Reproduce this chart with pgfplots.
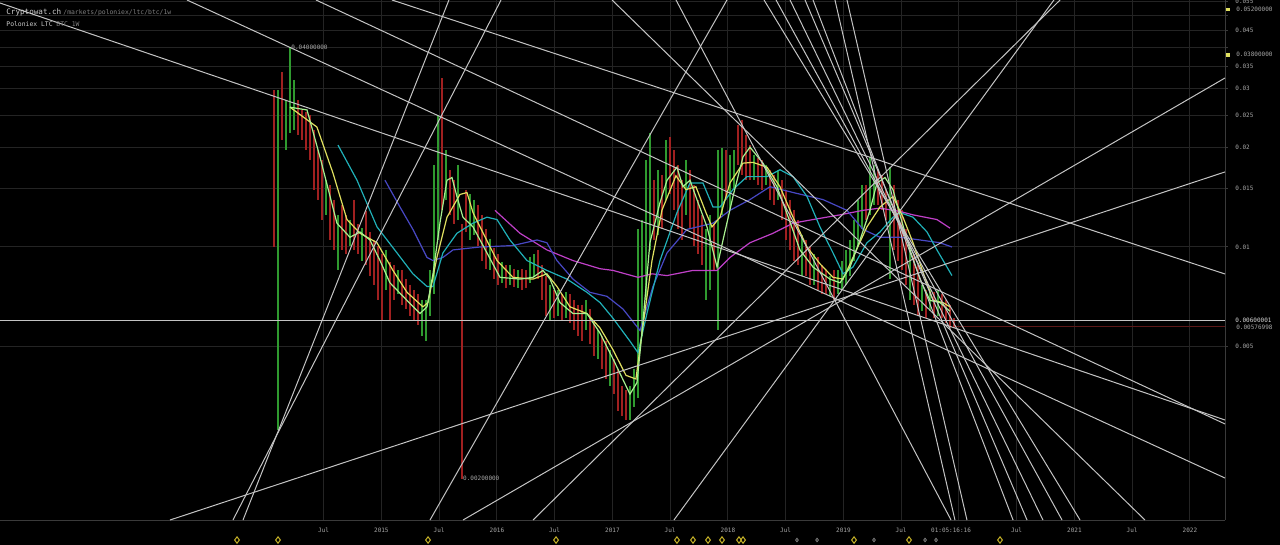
\documentclass[border=0pt]{standalone}
\usepackage{fontspec}
\setmonofont{DejaVu Sans Mono}
\usepackage{pgfplots}
\usepackage{pgfplotstable}
\pgfplotsset{compat=1.18}

\definecolor{cgrid}{HTML}{242424}
\definecolor{caxis}{HTML}{3a3a3a}
\definecolor{clabel}{HTML}{a8a8a8}
\definecolor{ctrend}{HTML}{c4c4c4}
\definecolor{cgreen}{HTML}{2f9a2f}
\definecolor{cred}{HTML}{a02020}
\definecolor{cyel}{HTML}{e0e060}
\definecolor{clime}{HTML}{a8f090}
\definecolor{ccyan}{HTML}{20b0b8}
\definecolor{cblue}{HTML}{4848c4}
\definecolor{cmag}{HTML}{c040c8}
\definecolor{cdiam}{HTML}{c8b428}
\definecolor{cnow}{HTML}{5c1818}

% weekly candles sampled about every two weeks: high/low pairs, nan separates candles
\pgfplotstableread{
x y
2014.105 0.0297
2014.105 0.0028
nan nan
2014.174 0.0278
2014.174 0.0196
nan nan
2014.209 0.0401
2014.209 0.0221
nan nan
2014.243 0.0319
2014.243 0.0225
nan nan
2014.520 0.0159
2014.520 0.0125
nan nan
2014.624 0.0125
2014.624 0.0085
nan nan
2014.728 0.0121
2014.728 0.0101
nan nan
2014.832 0.0114
2014.832 0.0091
nan nan
2015.040 0.0098
2015.040 0.0074
nan nan
2015.144 0.0085
2015.144 0.0072
nan nan
2015.351 0.0069
2015.351 0.0054
nan nan
2015.386 0.0069
2015.386 0.0052
nan nan
2015.421 0.0085
2015.421 0.0062
nan nan
2015.455 0.0177
2015.455 0.0072
nan nan
2015.490 0.0250
2015.490 0.0105
nan nan
2015.559 0.0196
2015.559 0.0139
nan nan
2015.663 0.0177
2015.663 0.0121
nan nan
2015.767 0.0144
2015.767 0.0105
nan nan
2015.801 0.0139
2015.801 0.0109
nan nan
2015.940 0.0106
2015.940 0.0085
nan nan
2016.044 0.0090
2016.044 0.0078
nan nan
2016.113 0.0088
2016.113 0.0077
nan nan
2016.183 0.0085
2016.183 0.0075
nan nan
2016.287 0.0093
2016.287 0.0078
nan nan
2016.321 0.0095
2016.321 0.0081
nan nan
2016.460 0.0077
2016.460 0.0060
nan nan
2016.529 0.0074
2016.529 0.0062
nan nan
2016.598 0.0073
2016.598 0.0061
nan nan
2016.771 0.0069
2016.771 0.0056
nan nan
2016.875 0.0056
2016.875 0.0046
nan nan
2016.979 0.0049
2016.979 0.0038
nan nan
2017.152 0.0038
2017.152 0.0030
nan nan
2017.187 0.0043
2017.187 0.0033
nan nan
2017.222 0.0113
2017.222 0.0035
nan nan
2017.256 0.0121
2017.256 0.0054
nan nan
2017.291 0.0183
2017.291 0.0069
nan nan
2017.325 0.0221
2017.325 0.0098
nan nan
2017.395 0.0171
2017.395 0.0109
nan nan
2017.464 0.0210
2017.464 0.0139
nan nan
2017.637 0.0183
2017.637 0.0125
nan nan
2017.810 0.0113
2017.810 0.0069
nan nan
2017.845 0.0125
2017.845 0.0074
nan nan
2017.914 0.0196
2017.914 0.0056
nan nan
2017.949 0.0199
2017.949 0.0125
nan nan
2018.018 0.0190
2018.018 0.0129
nan nan
2018.053 0.0196
2018.053 0.0149
nan nan
2018.226 0.0190
2018.226 0.0159
nan nan
2018.330 0.0177
2018.330 0.0154
nan nan
2018.434 0.0171
2018.434 0.0139
nan nan
2018.642 0.0109
2018.642 0.0082
nan nan
2018.745 0.0095
2018.745 0.0077
nan nan
2018.884 0.0082
2018.884 0.0071
nan nan
2018.953 0.0085
2018.953 0.0072
nan nan
2018.988 0.0091
2018.988 0.0074
nan nan
2019.022 0.0098
2019.022 0.0077
nan nan
2019.057 0.0105
2019.057 0.0082
nan nan
2019.092 0.0121
2019.092 0.0091
nan nan
2019.126 0.0139
2019.126 0.0101
nan nan
2019.161 0.0154
2019.161 0.0113
nan nan
2019.230 0.0187
2019.230 0.0125
nan nan
2019.265 0.0177
2019.265 0.0134
nan nan
2019.403 0.0174
2019.403 0.0080
nan nan
2019.577 0.0101
2019.577 0.0069
nan nan
2019.681 0.0077
2019.681 0.0064
nan nan
2019.750 0.0075
2019.750 0.0064
nan nan
2019.819 0.0074
2019.819 0.0062
}\greenc

\pgfplotstableread{
x y
2014.070 0.0297
2014.070 0.0100
nan nan
2014.139 0.0337
2014.139 0.0210
nan nan
2014.278 0.0278
2014.278 0.0218
nan nan
2014.312 0.0259
2014.312 0.0210
nan nan
2014.347 0.0255
2014.347 0.0196
nan nan
2014.382 0.0250
2014.382 0.0183
nan nan
2014.416 0.0225
2014.416 0.0149
nan nan
2014.451 0.0196
2014.451 0.0139
nan nan
2014.486 0.0183
2014.486 0.0121
nan nan
2014.555 0.0154
2014.555 0.0105
nan nan
2014.589 0.0139
2014.589 0.0098
nan nan
2014.659 0.0134
2014.659 0.0098
nan nan
2014.693 0.0125
2014.693 0.0095
nan nan
2014.763 0.0139
2014.763 0.0098
nan nan
2014.797 0.0117
2014.797 0.0095
nan nan
2014.867 0.0128
2014.867 0.0088
nan nan
2014.901 0.0111
2014.901 0.0082
nan nan
2014.936 0.0105
2014.936 0.0077
nan nan
2014.971 0.0101
2014.971 0.0069
nan nan
2015.005 0.0095
2015.005 0.0060
nan nan
2015.074 0.0090
2015.074 0.0060
nan nan
2015.109 0.0088
2015.109 0.0069
nan nan
2015.178 0.0085
2015.178 0.0067
nan nan
2015.213 0.0080
2015.213 0.0065
nan nan
2015.248 0.0077
2015.248 0.0062
nan nan
2015.282 0.0074
2015.282 0.0060
nan nan
2015.317 0.0072
2015.317 0.0058
nan nan
2015.524 0.0323
2015.524 0.0129
nan nan
2015.594 0.0171
2015.594 0.0125
nan nan
2015.628 0.0159
2015.628 0.0117
nan nan
2015.698 0.0117
2015.698 0.0020
nan nan
2015.732 0.0149
2015.732 0.0111
nan nan
2015.836 0.0134
2015.836 0.0101
nan nan
2015.871 0.0125
2015.871 0.0091
nan nan
2015.905 0.0113
2015.905 0.0086
nan nan
2015.975 0.0099
2015.975 0.0080
nan nan
2016.009 0.0095
2016.009 0.0077
nan nan
2016.079 0.0088
2016.079 0.0075
nan nan
2016.148 0.0086
2016.148 0.0076
nan nan
2016.217 0.0086
2016.217 0.0074
nan nan
2016.252 0.0085
2016.252 0.0075
nan nan
2016.356 0.0098
2016.356 0.0080
nan nan
2016.390 0.0088
2016.390 0.0069
nan nan
2016.425 0.0082
2016.425 0.0062
nan nan
2016.494 0.0074
2016.494 0.0061
nan nan
2016.564 0.0072
2016.564 0.0060
nan nan
2016.633 0.0072
2016.633 0.0059
nan nan
2016.667 0.0069
2016.667 0.0056
nan nan
2016.702 0.0067
2016.702 0.0054
nan nan
2016.737 0.0067
2016.737 0.0052
nan nan
2016.806 0.0065
2016.806 0.0051
nan nan
2016.841 0.0060
2016.841 0.0047
nan nan
2016.910 0.0054
2016.910 0.0043
nan nan
2016.944 0.0052
2016.944 0.0040
nan nan
2017.014 0.0046
2017.014 0.0036
nan nan
2017.048 0.0043
2017.048 0.0032
nan nan
2017.083 0.0038
2017.083 0.0031
nan nan
2017.118 0.0037
2017.118 0.0030
nan nan
2017.360 0.0159
2017.360 0.0105
nan nan
2017.429 0.0165
2017.429 0.0113
nan nan
2017.499 0.0215
2017.499 0.0144
nan nan
2017.533 0.0196
2017.533 0.0129
nan nan
2017.568 0.0177
2017.568 0.0113
nan nan
2017.602 0.0159
2017.602 0.0105
nan nan
2017.672 0.0171
2017.672 0.0113
nan nan
2017.706 0.0154
2017.706 0.0101
nan nan
2017.741 0.0139
2017.741 0.0095
nan nan
2017.776 0.0125
2017.776 0.0088
nan nan
2017.880 0.0117
2017.880 0.0085
nan nan
2017.983 0.0196
2017.983 0.0139
nan nan
2018.087 0.0233
2018.087 0.0177
nan nan
2018.122 0.0242
2018.122 0.0165
nan nan
2018.157 0.0218
2018.157 0.0159
nan nan
2018.191 0.0203
2018.191 0.0159
nan nan
2018.261 0.0186
2018.261 0.0154
nan nan
2018.295 0.0183
2018.295 0.0149
nan nan
2018.365 0.0171
2018.365 0.0139
nan nan
2018.399 0.0165
2018.399 0.0134
nan nan
2018.468 0.0159
2018.468 0.0121
nan nan
2018.503 0.0149
2018.503 0.0105
nan nan
2018.538 0.0139
2018.538 0.0098
nan nan
2018.572 0.0129
2018.572 0.0091
nan nan
2018.607 0.0121
2018.607 0.0088
nan nan
2018.676 0.0105
2018.676 0.0082
nan nan
2018.711 0.0101
2018.711 0.0077
nan nan
2018.780 0.0093
2018.780 0.0074
nan nan
2018.815 0.0088
2018.815 0.0072
nan nan
2018.849 0.0085
2018.849 0.0072
nan nan
2018.919 0.0085
2018.919 0.0069
nan nan
2019.196 0.0154
2019.196 0.0121
nan nan
2019.300 0.0171
2019.300 0.0134
nan nan
2019.334 0.0165
2019.334 0.0129
nan nan
2019.369 0.0149
2019.369 0.0121
nan nan
2019.438 0.0154
2019.438 0.0098
nan nan
2019.473 0.0139
2019.473 0.0091
nan nan
2019.507 0.0129
2019.507 0.0085
nan nan
2019.542 0.0113
2019.542 0.0077
nan nan
2019.611 0.0095
2019.611 0.0067
nan nan
2019.646 0.0088
2019.646 0.0062
nan nan
2019.715 0.0074
2019.715 0.0061
nan nan
2019.784 0.0073
2019.784 0.0061
nan nan
2019.854 0.0072
2019.854 0.0061
nan nan
2019.888 0.0069
2019.888 0.0059
nan nan
2019.923 0.0067
2019.923 0.0057
nan nan
2019.958 0.0061
2019.958 0.0057
}\redc

\begin{document}
\begin{tikzpicture}
\fill[black] (0pt,0pt) rectangle (640pt,272.5pt);
\useasboundingbox (0pt,0pt) rectangle (640pt,272.5pt);
\begin{axis}[
  at={(0pt,12.5pt)}, anchor=south west,
  scale only axis, width=612.5pt, height=260pt,
  xmin=2011.698, xmax=2022.304,
  ymode=log, ymin=0.001502, ymax=0.05558,
  axis x line*=bottom, axis y line*=right,
  axis line style={draw=caxis, line width=0.5pt},
  xtick={2014.5,2015,2015.5,2016,2016.5,2017,2017.5,2018,2018.5,2019,2019.5,2020,2020.5,2021,2021.5,2022},
  xticklabels={Jul,2015,Jul,2016,Jul,2017,Jul,2018,Jul,2019,Jul,,Jul,2021,Jul,2022},
  extra x ticks={2019.932},
  extra x tick labels={01:05:16:16},
  extra x tick style={grid=none},
  ytick={0.005,0.01,0.015,0.02,0.025,0.03,0.035,0.04,0.045,0.05,0.055},
  yticklabels={0.005,0.01,0.015,0.02,0.025,0.03,0.035,,0.045,,0.055},
  grid=major, major grid style={draw=cgrid, line width=0.5pt},
  tick align=outside,
  major tick length=1.5pt, minor tick length=0pt,
  xtick style={draw=none},
  ytick style={draw=caxis, line width=0.5pt},
  ticklabel style={font=\ttfamily\fontsize{3pt}{3.5pt}\selectfont, text=clabel},
  xticklabel style={anchor=north, inner sep=0pt, yshift=-2.2pt},
  yticklabel style={anchor=west, inner sep=0pt, xshift=3.5pt},
  unbounded coords=jump,
  clip=true,
]
% candles
\addplot[cgreen, line width=0.8pt] table[x=x,y=y] {\greenc};
\addplot[cred, line width=0.8pt] table[x=x,y=y] {\redc};

% moving averages
\addplot[cmag, line width=0.6pt] coordinates {(2015.983,0.0129) (2016.200,0.0110) (2016.433,0.0098) (2016.659,0.0091) (2016.893,0.0086) (2017.005,0.0085) (2017.222,0.0081) (2017.343,0.0083) (2017.473,0.0082) (2017.698,0.0085) (2017.906,0.0085) (2018.018,0.0093) (2018.191,0.0103) (2018.391,0.0110) (2018.564,0.0118) (2018.737,0.0121) (2018.971,0.0125) (2019.170,0.0129) (2019.317,0.0131) (2019.490,0.0128) (2019.603,0.0125) (2019.810,0.0121) (2019.923,0.0114)};
\addplot[cblue, line width=0.6pt] coordinates {(2015.031,0.0159) (2015.161,0.0132) (2015.273,0.0113) (2015.395,0.0093) (2015.447,0.0091) (2015.533,0.0093) (2015.620,0.0098) (2015.854,0.0100) (2016.139,0.0101) (2016.347,0.0105) (2016.433,0.0103) (2016.520,0.0091) (2016.659,0.0080) (2016.806,0.0073) (2016.953,0.0071) (2017.092,0.0065) (2017.239,0.0056) (2017.351,0.0076) (2017.473,0.0096) (2017.646,0.0113) (2017.871,0.0118) (2018.018,0.0129) (2018.191,0.0139) (2018.365,0.0152) (2018.564,0.0146) (2018.823,0.0139) (2019.031,0.0129) (2019.170,0.0113) (2019.317,0.0107) (2019.490,0.0107) (2019.663,0.0105) (2019.836,0.0103) (2019.940,0.0100)};
\addplot[ccyan, line width=0.6pt] coordinates {(2014.624,0.0203) (2014.789,0.0159) (2014.962,0.0115) (2015.135,0.0096) (2015.273,0.0083) (2015.395,0.0076) (2015.447,0.0076) (2015.533,0.0096) (2015.654,0.0110) (2015.793,0.0118) (2015.914,0.0123) (2016.001,0.0121) (2016.113,0.0105) (2016.261,0.0091) (2016.433,0.0085) (2016.607,0.0080) (2016.780,0.0073) (2016.893,0.0068) (2017.005,0.0061) (2017.152,0.0052) (2017.222,0.0048) (2017.299,0.0063) (2017.412,0.0091) (2017.559,0.0127) (2017.672,0.0156) (2017.784,0.0156) (2017.871,0.0132) (2017.932,0.0132) (2018.044,0.0149) (2018.165,0.0163) (2018.339,0.0163) (2018.451,0.0171) (2018.564,0.0163) (2018.685,0.0142) (2018.797,0.0115) (2018.910,0.0096) (2018.997,0.0083) (2019.083,0.0087) (2019.204,0.0103) (2019.317,0.0111) (2019.429,0.0123) (2019.490,0.0127) (2019.603,0.0123) (2019.724,0.0111) (2019.810,0.0098) (2019.940,0.0082)};
\addplot[cyel, line width=0.6pt] coordinates {(2014.209,0.0264) (2014.442,0.0230) (2014.581,0.0167) (2014.702,0.0121) (2014.815,0.0110) (2014.962,0.0103) (2015.100,0.0085) (2015.222,0.0073) (2015.360,0.0066) (2015.403,0.0068) (2015.481,0.0093) (2015.568,0.0123) (2015.680,0.0144) (2015.741,0.0146) (2015.793,0.0127) (2015.854,0.0115) (2016.001,0.0091) (2016.139,0.0081) (2016.312,0.0080) (2016.433,0.0083) (2016.520,0.0076) (2016.633,0.0066) (2016.780,0.0063) (2016.893,0.0057) (2017.005,0.0049) (2017.118,0.0041) (2017.204,0.0040) (2017.256,0.0055) (2017.343,0.0091) (2017.429,0.0129) (2017.550,0.0164) (2017.637,0.0149) (2017.723,0.0152) (2017.810,0.0127) (2017.862,0.0115) (2017.932,0.0123) (2018.018,0.0156) (2018.131,0.0179) (2018.217,0.0180) (2018.339,0.0174) (2018.451,0.0152) (2018.564,0.0123) (2018.685,0.0100) (2018.797,0.0089) (2018.910,0.0081) (2018.997,0.0080) (2019.083,0.0093) (2019.204,0.0115) (2019.317,0.0132) (2019.429,0.0142) (2019.516,0.0123) (2019.603,0.0103) (2019.689,0.0084) (2019.776,0.0069) (2019.862,0.0068) (2019.923,0.0066)};
\addplot[clime, line width=0.6pt] coordinates {(2014.209,0.0264) (2014.356,0.0259) (2014.468,0.0187) (2014.615,0.0118) (2014.728,0.0107) (2014.815,0.0111) (2014.901,0.0105) (2014.988,0.0091) (2015.074,0.0078) (2015.222,0.0069) (2015.334,0.0063) (2015.395,0.0066) (2015.447,0.0083) (2015.507,0.0118) (2015.568,0.0159) (2015.611,0.0162) (2015.654,0.0142) (2015.706,0.0123) (2015.793,0.0115) (2015.914,0.0096) (2016.027,0.0081) (2016.200,0.0080) (2016.312,0.0081) (2016.399,0.0085) (2016.460,0.0080) (2016.546,0.0068) (2016.659,0.0063) (2016.780,0.0063) (2016.893,0.0055) (2017.005,0.0046) (2017.152,0.0036) (2017.213,0.0039) (2017.256,0.0055) (2017.325,0.0103) (2017.412,0.0136) (2017.473,0.0159) (2017.559,0.0174) (2017.611,0.0152) (2017.672,0.0159) (2017.732,0.0139) (2017.819,0.0115) (2017.906,0.0087) (2017.958,0.0105) (2018.044,0.0142) (2018.131,0.0187) (2018.191,0.0200) (2018.304,0.0179) (2018.425,0.0152) (2018.512,0.0126) (2018.624,0.0098) (2018.737,0.0087) (2018.884,0.0080) (2018.971,0.0078) (2019.057,0.0087) (2019.144,0.0105) (2019.230,0.0129) (2019.291,0.0156) (2019.360,0.0162) (2019.429,0.0149) (2019.490,0.0125) (2019.577,0.0098) (2019.663,0.0080) (2019.750,0.0069) (2019.836,0.0068) (2019.923,0.0064)};

% horizontal levels
\addplot[cnow, line width=0.6pt] coordinates {(2019.966,0.00577) (2022.304,0.00577)};
\addplot[ctrend, line width=0.6pt] coordinates {(2011.698,0.006) (2022.304,0.006)};

% trend lines: long descending lines from the upper left
\addplot[ctrend, line width=0.5pt] coordinates {(2011.698,0.05443) (2022.304,0.003008)};
\addplot[ctrend, line width=0.5pt] coordinates {(2013.317,0.05558) (2022.304,0.00201)};
\addplot[ctrend, line width=0.5pt] coordinates {(2014.434,0.05558) (2022.304,0.002926)};
\addplot[ctrend, line width=0.5pt] coordinates {(2015.092,0.05558) (2022.304,0.00829)};
% rising lines from the lower left
\addplot[ctrend, line width=0.5pt] coordinates {(2013.715,0.001502) (2016.036,0.05558)};
\addplot[ctrend, line width=0.5pt] coordinates {(2013.802,0.001502) (2015.585,0.05558)};
\addplot[ctrend, line width=0.5pt] coordinates {(2013.170,0.001502) (2022.304,0.01684)};
\addplot[ctrend, line width=0.5pt] coordinates {(2015.707,0.001502) (2022.304,0.03234)};
\addplot[ctrend, line width=0.5pt] coordinates {(2015.421,0.001502) (2017.992,0.05558)};
\addplot[ctrend, line width=0.5pt] coordinates {(2016.313,0.001502) (2020.876,0.05558)};
\addplot[ctrend, line width=0.5pt] coordinates {(2017.533,0.001502) (2020.823,0.05558)};
% steep descending fan through the 2019 top
\addplot[ctrend, line width=0.5pt] coordinates {(2017.551,0.05558) (2019.932,0.001502)};
\addplot[ctrend, line width=0.5pt] coordinates {(2016.997,0.05558) (2021.611,0.001502)};
\addplot[ctrend, line width=0.5pt] coordinates {(2019.031,0.05558) (2020.070,0.001502)};
\addplot[ctrend, line width=0.5pt] coordinates {(2018.927,0.05558) (2019.966,0.001502)};
\addplot[ctrend, line width=0.5pt] coordinates {(2018.737,0.05558) (2020.469,0.001502)};
\addplot[ctrend, line width=0.5pt] coordinates {(2018.668,0.05558) (2020.590,0.001502)};
\addplot[ctrend, line width=0.5pt] coordinates {(2018.538,0.05558) (2020.728,0.001502)};
\addplot[ctrend, line width=0.5pt] coordinates {(2018.417,0.05558) (2020.893,0.001502)};
\addplot[ctrend, line width=0.5pt] coordinates {(2018.313,0.05558) (2021.049,0.001502)};
\end{axis}

% overlay axis: same scaling, no clipping, for markers and labels outside the plot area
\begin{axis}[
  at={(0pt,12.5pt)}, anchor=south west,
  scale only axis, width=612.5pt, height=260pt,
  xmin=2011.698, xmax=2022.304,
  ymode=log, ymin=0.001502, ymax=0.05558,
  axis lines=none, clip=false,
]
\addplot[only marks, mark=diamond, mark size=1.6pt, draw=cdiam, mark options={line width=0.5pt, fill=none}] coordinates {(2013.750,0.001307) (2014.105,0.001307) (2015.404,0.001307) (2016.512,0.001307) (2017.559,0.001307) (2017.698,0.001307) (2017.828,0.001307) (2017.949,0.001307) (2018.096,0.001307) (2018.131,0.001307) (2019.092,0.001307) (2019.568,0.001307) (2020.356,0.001307)};
\addplot[only marks, mark=diamond, mark size=0.9pt, draw=gray, mark options={line width=0.4pt, fill=none}] coordinates {(2018.598,0.001307) (2018.772,0.001307) (2019.265,0.001307) (2019.707,0.001307) (2019.802,0.001307)};
\addplot[only marks, mark=square*, mark size=0.6pt, cyel] coordinates {(2022.330,0.052) (2022.330,0.038)};
\node[anchor=west, inner sep=0pt, font=\ttfamily\fontsize{3pt}{3.5pt}\selectfont, text=clabel] at (axis cs:2022.399,0.052) {0.05200000};
\node[anchor=west, inner sep=0pt, font=\ttfamily\fontsize{3pt}{3.5pt}\selectfont, text=clabel] at (axis cs:2022.399,0.038) {0.03800000};
\node[anchor=west, inner sep=0pt, font=\ttfamily\fontsize{3pt}{3.5pt}\selectfont, text=clabel] at (axis cs:2022.399,0.00574) {0.00576998};
\node[anchor=west, inner sep=0.3pt, fill=black, font=\ttfamily\fontsize{3pt}{3.5pt}\selectfont, text=white!85!black] at (axis cs:2022.385,0.00602) {0.00600001};
\node[anchor=west, inner sep=0pt, font=\ttfamily\fontsize{3pt}{3.5pt}\selectfont, text=clabel] at (axis cs:2014.218,0.0401) {0.04000000};
\node[anchor=west, inner sep=0pt, font=\ttfamily\fontsize{3pt}{3.5pt}\selectfont, text=clabel] at (axis cs:2015.705,0.00200) {0.00200000};
\end{axis}

\node[anchor=base west, inner sep=0pt, font=\ttfamily\fontsize{3.8pt}{4pt}\selectfont, text=white!82!black] at (3pt,265pt) {Cryptowat.ch};
\node[anchor=base west, inner sep=0pt, font=\ttfamily\fontsize{3.2pt}{4pt}\selectfont, text=gray] at (31.5pt,265pt) {/markets/poloniex/ltc/btc/1w};
\node[anchor=base west, inner sep=0pt, font=\ttfamily\fontsize{3.2pt}{4pt}\selectfont, text=white!80!black] at (3pt,259pt) {Poloniex LTC \textcolor{gray}{BTC 1W}};
\end{tikzpicture}
\end{document}
